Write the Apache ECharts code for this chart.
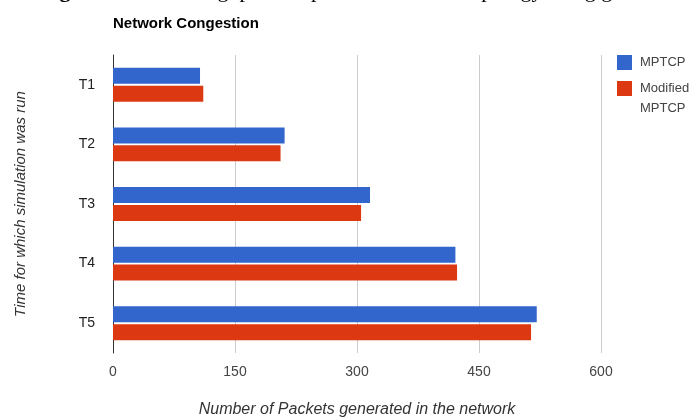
<!DOCTYPE html>
<html>
<head>
<meta charset="utf-8">
<script src="https://cdn.jsdelivr.net/npm/echarts@6/dist/echarts.min.js"></script>
<style>
  html, body { margin: 0; padding: 0; background: #fff; }
  #chart { width: 699px; height: 420px; }
</style>
</head>
<body>
<div id="chart"></div>
<script>
// categories and values
var categories = ["T1", "T2", "T3", "T4", "T5"];
var mptcp = [107, 211, 316, 421, 521];
var modifiedMptcp = [111, 206, 305, 423, 514];
var xTicks = [0, 150, 300, 450, 600];

var chart = echarts.init(document.getElementById("chart"));

var option = {
  backgroundColor: "#fff",
  animation: false,
  title: {
    text: "Network Congestion",
    left: 108,
    top: 11,
    textStyle: {
      fontFamily: "Liberation Sans Narrow, Liberation Sans, Arial",
      fontWeight: "bold",
      fontSize: 15,
      color: "#000"
    }
  },
  graphic: [
    {
      // caption of the page this chart was cut from, only its bottom shows
      type: "text",
      left: 40,
      top: -20,
      style: {
        text: "{b|Figure 5:} The throughput comparison for mesh topology using g",
        rich: {
          b: { fontWeight: "bold", fontFamily: "Liberation Serif", fontSize: 22, fill: "#000" }
        },
        fontFamily: "Liberation Serif",
        fontSize: 22,
        fill: "#000"
      }
    },
    {
      // second line of the legend entry
      type: "text",
      left: 640,
      top: 102,
      style: {
        text: "MPTCP",
        fontFamily: "Liberation Sans, Arial",
        fontSize: 13,
        fill: "#444"
      }
    }
  ],
  legend: {
    orient: "vertical",
    left: 612,
    top: 50,
    itemWidth: 15,
    itemHeight: 15,
    itemGap: 11,
    icon: "rect",
    textStyle: {
      fontFamily: "Liberation Sans, Arial",
      fontSize: 13,
      color: "#444",
      padding: [0, 0, 0, 3]
    },
    formatter: function (name) {
      return name === "Modified MPTCP" ? "Modified" : name;
    },
    data: ["MPTCP", "Modified MPTCP"]
  },
  grid: {
    left: 113,
    right: 98,
    top: 55,
    bottom: 67,
    outerBoundsMode: "none"
  },
  xAxis: {
    type: "value",
    min: 0,
    max: 600,
    interval: 150,
    name: "Number of Packets generated in the network",
    nameLocation: "middle",
    nameGap: 49,
    nameTextStyle: {
      fontFamily: "Liberation Sans, Arial",
      fontStyle: "italic",
      fontSize: 16,
      color: "#333"
    },
    axisLine: { show: false },
    axisTick: { show: false },
    axisLabel: {
      margin: 12,
      fontFamily: "Liberation Sans, Arial",
      fontSize: 14,
      color: "#444",
      formatter: function (v) { return xTicks.indexOf(v) >= 0 ? String(v) : ""; }
    },
    splitLine: { lineStyle: { color: "#ccc", width: 1 } }
  },
  yAxis: {
    type: "category",
    inverse: true,
    data: categories,
    name: "Time for which simulation was run",
    nameLocation: "middle",
    nameGap: 85,
    nameRotate: 90,
    nameTextStyle: {
      fontFamily: "Liberation Sans, Arial",
      fontStyle: "italic",
      fontSize: 15,
      color: "#333"
    },
    axisLine: { show: true, lineStyle: { color: "#333", width: 1 } },
    axisTick: { show: false },
    axisLabel: {
      margin: 18,
      fontFamily: "Liberation Sans, Arial",
      fontSize: 14,
      color: "#222"
    },
    splitLine: { show: false }
  },
  series: [
    {
      name: "MPTCP",
      type: "bar",
      data: mptcp,
      barWidth: 16,
      barGap: "12%",
      itemStyle: { color: "#3366cc" }
    },
    {
      name: "Modified MPTCP",
      type: "bar",
      data: modifiedMptcp,
      barWidth: 16,
      barGap: "12%",
      itemStyle: { color: "#dc3912" }
    }
  ]
};

chart.setOption(option);
</script>
</body>
</html>
